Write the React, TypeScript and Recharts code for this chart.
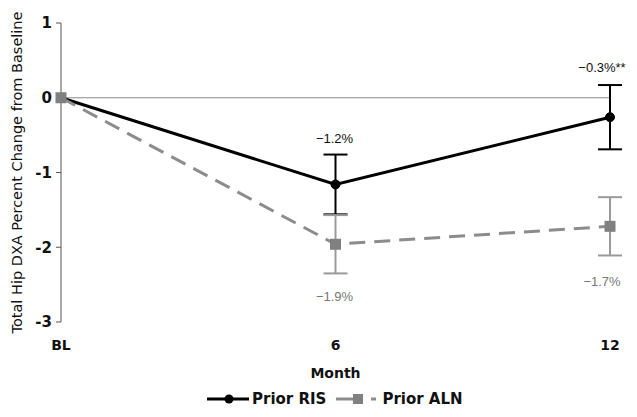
import React from "react";
import {
  LineChart,
  Line,
  XAxis,
  YAxis,
  ReferenceLine,
  ErrorBar,
  LabelList,
  Legend,
} from "recharts";

const months = ["BL", "6", "12"];
const risValues = [0, -1.16, -0.26];
const risErrors = [null, 0.4, 0.43];
const risLabels = ["", "\u22121.2%", "\u22120.3%**"];
const alnValues = [0, -1.96, -1.72];
const alnErrors = [null, 0.39, 0.39];
const alnLabels = ["", "\u22121.9%", "\u22121.7%"];
const yTicks = [-3, -2, -1, 0, 1];

const data = months.map((m, i) => ({
  month: m,
  ris: risValues[i],
  risErr: risErrors[i],
  risLabel: risLabels[i],
  aln: alnValues[i],
  alnErr: alnErrors[i],
  alnLabel: alnLabels[i],
}));

const LABEL_FONT = "'Liberation Sans', Arial, sans-serif";
const BOLD_FONT = "'DejaVu Sans', Verdana, sans-serif";

const makeLabel = (color: string, dyBase: number, dyLast: number) => (props: any) => {
  const { x, y, value, index } = props;
  if (!value) return null;
  const last = index === months.length - 1;
  return (
    <text
      x={x + (last ? -8 : -1)}
      y={y + (last ? dyLast : dyBase)}
      textAnchor="middle"
      dominantBaseline="central"
      fill={color}
      fontFamily={LABEL_FONT}
      fontSize={13}
    >
      {value}
    </text>
  );
};

const SquareDot = (props: any) => {
  const { cx, cy } = props;
  if (cx == null || cy == null) return null;
  return <rect x={cx - 5.5} y={cy - 5.5} width={11} height={11} fill="#808080" />;
};

const LegendContent = () => (
  <div
    style={{
      display: "flex",
      alignItems: "center",
      fontFamily: BOLD_FONT,
      fontWeight: "bold",
      fontSize: 15,
      color: "#111",
      lineHeight: "18px",
    }}
  >
    <svg width={44} height={12} style={{ display: "block" }}>
      <line x1={0} x2={42} y1={6} y2={6} stroke="#000" strokeWidth={3} />
      <circle cx={22} cy={6} r={4.5} fill="#000" />
    </svg>
    <span style={{ marginLeft: 1 }}>Prior RIS</span>
    <svg width={46} height={12} style={{ display: "block", marginLeft: 10 }}>
      <line x1={0} x2={20} y1={6} y2={6} stroke="#8c8c8c" strokeWidth={3} />
      <rect x={17} y={1} width={10} height={10} fill="#808080" />
      <line x1={35} x2={40} y1={6} y2={6} stroke="#8c8c8c" strokeWidth={3} />
    </svg>
    <span style={{ marginLeft: 0 }}>Prior ALN</span>
  </div>
);

export default function App() {
  return (
    <div style={{ position: "absolute", left: 0, top: 0, background: "#fff" }}>
      <LineChart
        width={637}
        height={417}
        data={data}
        margin={{ top: 23, right: 27, left: 0, bottom: 35 }}
      >
        <XAxis
          dataKey="month"
          axisLine={false}
          tickLine={false}
          tickSize={0}
          tickMargin={18}
          height={60}
          tick={{ fontFamily: BOLD_FONT, fontWeight: "bold", fontSize: 14, fill: "#111" }}
          label={{
            value: "Month",
            position: "insideBottom",
            offset: 4,
            style: { fontFamily: BOLD_FONT, fontWeight: "bold", fontSize: 14, fill: "#111" },
          }}
        />
        <YAxis
          domain={[-3, 1]}
          ticks={yTicks}
          width={61}
          axisLine={{ stroke: "#555", strokeWidth: 1 }}
          tickLine={{ stroke: "#555", strokeWidth: 1 }}
          tickSize={5}
          tickMargin={4}
          interval={0}
          tick={{ fontFamily: BOLD_FONT, fontWeight: "bold", fontSize: 15, fill: "#111" }}
          label={{
            value: "Total Hip DXA Percent Change from Baseline",
            angle: -90,
            position: "insideLeft",
            offset: 17,
            style: {
              textAnchor: "middle",
              fontFamily: BOLD_FONT,
              fontSize: 14.5,
              fill: "#111",
            },
          }}
        />
        <ReferenceLine y={0} stroke="#8a8a8a" strokeWidth={1} />
        <Line
          dataKey="ris"
          stroke="#000"
          strokeWidth={3}
          dot={{ r: 4.5, fill: "#000", stroke: "#000", strokeWidth: 1 }}
          isAnimationActive={false}
        >
          <ErrorBar dataKey="risErr" width={12} stroke="#000" strokeWidth={2} />
          <LabelList dataKey="risLabel" content={makeLabel("#111", -46, -50)} />
        </Line>
        <Line
          dataKey="aln"
          stroke="#8c8c8c"
          strokeWidth={3}
          strokeDasharray="16 9"
          dot={<SquareDot />}
          isAnimationActive={false}
        >
          <ErrorBar dataKey="alnErr" width={12} stroke="#9a9a9a" strokeWidth={2} />
          <LabelList dataKey="alnLabel" content={makeLabel("#777", 52, 55)} />
        </Line>
        <Legend
          layout="horizontal"
          verticalAlign="middle"
          align="center"
          content={<LegendContent />}
          wrapperStyle={{ position: "absolute", top: 390, left: 207, width: 300 }}
        />
      </LineChart>
    </div>
  );
}
